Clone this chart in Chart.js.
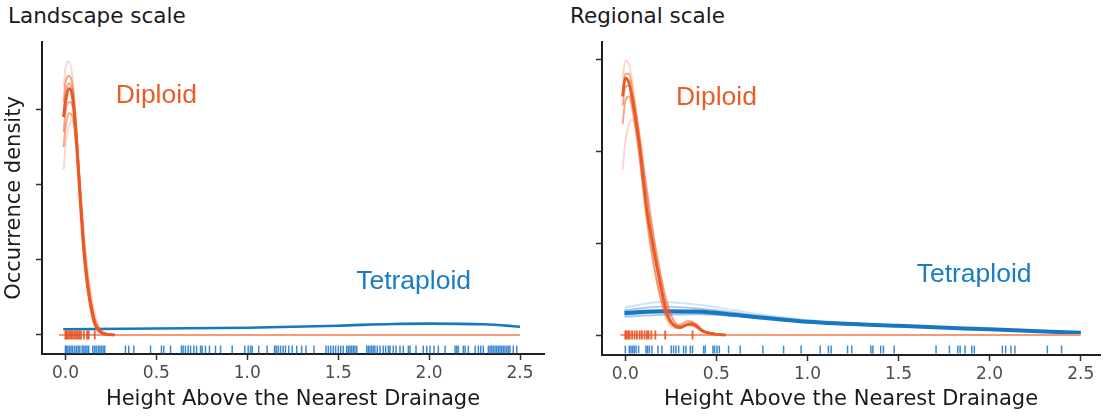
<!DOCTYPE html>
<html><head><meta charset="utf-8">
<script src="https://cdn.jsdelivr.net/npm/chart.js@4"></script>
<style>
body{margin:0;background:#fff;width:1109px;height:417px;overflow:hidden;position:relative}
canvas{position:absolute;top:0}
.ptitle{position:absolute;font-family:"DejaVu Sans";font-size:21.5px;line-height:1;color:#1a1a1a;white-space:nowrap}
</style></head><body>
<div class="ptitle" style="left:8px;top:5px">Landscape scale</div>
<div class="ptitle" style="left:570px;top:5px">Regional scale</div>
<canvas id="c1" width="560" height="417" style="left:0"></canvas>
<canvas id="c2" width="549" height="417" style="left:560px"></canvas>
<script>
// ---------- data ----------
const xTickValues = [0, 0.5, 1, 1.5, 2, 2.5];
const yTickValues = [0, 1, 2, 3];
const labelTexts = ['Diploid', 'Tetraploid'];
const labelX = [0.5, 1.915];
const landLabelY = [3.19, 0.707];
const regLabelY = [2.59, 0.66];

// Landscape scale: diploid density traces
const landDipX = [-0.01, 0, 0.02, 0.04, 0.06, 0.08, 0.1, 0.12, 0.14, 0.16, 0.18, 0.2, 0.23, 0.27];
const landDipMain = [2.9, 3.1, 3.28, 3.15, 2.6, 1.84, 1.15, 0.68, 0.38, 0.16, 0.07, 0.03, 0.008, 0];
const landDipV1 = [3.3, 3.55, 3.64, 3.4, 2.75, 1.9, 1.15, 0.62, 0.3, 0.12, 0.04, 0.01, 0, 0];
const landDipV2 = [3.1, 3.35, 3.45, 3.3, 2.75, 1.95, 1.22, 0.7, 0.36, 0.15, 0.06, 0.02, 0, 0];
const landDipV3 = [2.7, 2.95, 3.1, 3.05, 2.6, 1.95, 1.3, 0.8, 0.45, 0.22, 0.1, 0.04, 0.01, 0];
const landDipV4 = [2.2, 2.5, 2.8, 2.85, 2.55, 2.0, 1.4, 0.9, 0.55, 0.3, 0.14, 0.06, 0.015, 0];
const landDipV5 = [2.5, 2.75, 2.95, 2.9, 2.5, 1.85, 1.2, 0.72, 0.4, 0.2, 0.09, 0.04, 0.01, 0];
const landDipV6 = [2.95, 3.2, 3.35, 3.2, 2.7, 2.0, 1.3, 0.78, 0.44, 0.2, 0.08, 0.03, 0.005, 0];
// Landscape scale: tetraploid density
const landTetX = [-0.012, 0.5, 1.0, 1.5, 1.8, 2.0, 2.3, 2.45, 2.5];
const landTetMain = [0.076, 0.087, 0.097, 0.124, 0.147, 0.151, 0.142, 0.12, 0.11];
// Landscape rugs
const landTetRug = [0.0, 0.004, 0.013, 0.022, 0.031, 0.040, 0.051, 0.061, 0.070, 0.079, 0.092, 0.101, 0.110, 0.119, 0.128, 0.150, 0.160, 0.169, 0.180, 0.189, 0.198, 0.207, 0.216,
  0.330, 0.348, 0.376, 0.468, 0.528, 0.541, 0.578, 0.638, 0.647, 0.660, 0.675, 0.688, 0.706, 0.721, 0.743, 0.752, 0.770, 0.792, 0.825, 0.853, 0.917, 0.986, 1.005, 1.018, 1.027, 1.063, 1.109, 1.150, 1.159, 1.170, 1.183, 1.197, 1.210, 1.228, 1.247,
  1.272, 1.299, 1.323, 1.367, 1.433, 1.446, 1.459, 1.473, 1.486, 1.501, 1.514, 1.528, 1.547, 1.556, 1.565, 1.574, 1.583, 1.592, 1.602, 1.657, 1.666, 1.675, 1.684, 1.693, 1.702, 1.715, 1.730, 1.748, 1.761, 1.776, 1.785, 1.803, 1.818, 1.840, 1.858, 1.886, 1.895, 1.928, 1.968, 1.987, 2.005, 2.027, 2.051, 2.088, 2.143, 2.152, 2.161, 2.188, 2.198, 2.216, 2.253, 2.271, 2.284, 2.298, 2.326, 2.335, 2.344, 2.353, 2.363, 2.372, 2.381, 2.390, 2.399, 2.408, 2.417, 2.427, 2.436, 2.445, 2.463, 2.482];
const landDipRug = [0.0, 0.004, 0.013, 0.022, 0.031, 0.040, 0.050, 0.059, 0.068, 0.077, 0.086, 0.101, 0.119, 0.128, 0.161];

// Regional scale: diploid density traces
const regDipX = [-0.015, 0, 0.02, 0.04, 0.06, 0.08, 0.1, 0.12, 0.14, 0.16, 0.18, 0.2, 0.22, 0.24, 0.26, 0.28, 0.3, 0.32, 0.34, 0.36, 0.38, 0.4, 0.42, 0.45, 0.5, 0.55];
const regDipMain = [2.6, 2.8, 2.75, 2.55, 2.3, 2.02, 1.66, 1.33, 1.1, 0.88, 0.68, 0.48, 0.3, 0.18, 0.12, 0.09, 0.08, 0.095, 0.115, 0.12, 0.11, 0.08, 0.05, 0.025, 0.008, 0];
const regDipV1 = [2.8, 2.99, 2.95, 2.75, 2.45, 2.1, 1.7, 1.3, 1.0, 0.75, 0.52, 0.34, 0.2, 0.12, 0.08, 0.07, 0.08, 0.1, 0.12, 0.12, 0.1, 0.07, 0.04, 0.02, 0.005, 0];
const regDipV2 = [2.5, 2.7, 2.72, 2.6, 2.4, 2.15, 1.85, 1.55, 1.28, 1.02, 0.8, 0.6, 0.42, 0.28, 0.18, 0.12, 0.1, 0.1, 0.11, 0.11, 0.1, 0.08, 0.05, 0.03, 0.01, 0];
const regDipV3 = [1.8, 2.1, 2.3, 2.35, 2.25, 2.05, 1.8, 1.52, 1.25, 1.0, 0.78, 0.57, 0.38, 0.24, 0.15, 0.1, 0.08, 0.09, 0.1, 0.1, 0.09, 0.07, 0.04, 0.02, 0.005, 0];
const regDipV4 = [2.3, 2.55, 2.6, 2.45, 2.2, 1.9, 1.55, 1.22, 0.95, 0.72, 0.52, 0.36, 0.23, 0.15, 0.11, 0.1, 0.11, 0.13, 0.15, 0.15, 0.13, 0.1, 0.06, 0.03, 0.01, 0];
const regDipV5 = [2.65, 2.85, 2.85, 2.65, 2.38, 2.08, 1.75, 1.42, 1.15, 0.9, 0.66, 0.45, 0.28, 0.17, 0.11, 0.08, 0.08, 0.1, 0.12, 0.13, 0.12, 0.09, 0.055, 0.025, 0.008, 0];
// Regional scale: tetraploid density traces
const regTetX = [-0.005, 0.2, 0.4, 0.6, 0.8, 1.0, 1.5, 2.0, 2.5];
const regTetMain = [0.24, 0.26, 0.255, 0.22, 0.18, 0.145, 0.1, 0.062, 0.025];
const regTetV1 = [0.3, 0.36, 0.33, 0.27, 0.21, 0.165, 0.105, 0.065, 0.03];
const regTetV2 = [0.27, 0.31, 0.29, 0.245, 0.195, 0.155, 0.1, 0.062, 0.028];
const regTetV3 = [0.2, 0.22, 0.225, 0.205, 0.17, 0.14, 0.098, 0.06, 0.022];
const regTetV4 = [0.22, 0.245, 0.24, 0.21, 0.175, 0.14, 0.095, 0.058, 0.02];
// Regional rugs
const regTetRug = [0.0, 0.022, 0.031, 0.040, 0.049, 0.059, 0.073, 0.113, 0.122, 0.132, 0.146, 0.179, 0.201, 0.252, 0.265, 0.278, 0.293, 0.320, 0.333, 0.357, 0.369, 0.430, 0.439, 0.481, 0.490, 0.503, 0.516, 0.567, 0.631, 0.755, 0.869, 0.965, 1.070, 1.115, 1.130, 1.220, 1.243,
  1.348, 1.359, 1.402, 1.417, 1.476, 1.706, 1.779, 1.825, 1.838, 1.865, 1.902, 1.916, 2.070, 2.088, 2.117, 2.139, 2.317, 2.395];
const regDipRug = [0.0, 0.005, 0.015, 0.024, 0.037, 0.051, 0.064, 0.079, 0.091, 0.106, 0.119, 0.128, 0.143, 0.165, 0.219, 0.369];

// ---------- styling ----------
const ORANGE = '#ea5a24';
const ORANGE_FAINT = 'rgba(238,100,50,0.25)';
const ORANGE_MID = 'rgba(235,92,40,0.55)';
const ORANGE_ZERO = '#f29b78';
const BLUE = '#1677c2';
const BLUE_FAINT = 'rgba(30,120,200,0.2)';
const BLUE_MID = 'rgba(30,120,200,0.4)';
const BLUE_RUG = 'rgba(25,118,205,0.85)';
const ORANGE_RUG = 'rgba(228,80,30,0.9)';

function pts(xs, ys) { return xs.map((x, i) => ({x: x, y: ys[i]})); }
function rug(xs, y) { return xs.map(x => ({x: x, y: y})); }

function curve(data, color, width, order) {
  return {data, borderColor: color, borderWidth: width, pointRadius: 0, fill: false,
    cubicInterpolationMode: 'monotone', order, showLine: true};
}
function rugSet(data, color, r, w, order) {
  return {data, showLine: false, pointStyle: 'line', pointRotation: 90, pointRadius: r,
    pointBorderColor: color, pointBorderWidth: w, pointBackgroundColor: color, order};
}

const labelPlugin = {
  id: 'speciesLabels',
  afterDatasetsDraw(chart, args, opts) {
    const ctx = chart.ctx, xs = chart.scales.x, ys = chart.scales.y;
    ctx.save();
    ctx.font = '26.5px "Liberation Sans"';
    ctx.textAlign = 'center';
    ctx.textBaseline = 'middle';
    labelTexts.forEach((t, i) => {
      ctx.fillStyle = i === 0 ? '#e85d29' : '#1a7cc3';
      ctx.fillText(t, xs.getPixelForValue(labelX[i]), ys.getPixelForValue(opts.ys[i]));
    });
    ctx.restore();
  }
};

function makeChart(id, p) {
  return new Chart(document.getElementById(id), {
    type: 'line',
    data: {datasets: p.datasets},
    plugins: [labelPlugin],
    options: {
      responsive: false, animation: false, devicePixelRatio: 1,
      layout: {padding: {left: 0, top: 42, right: p.padRight, bottom: 0}},
      plugins: {legend: {display: false}, tooltip: {enabled: false}, speciesLabels: {ys: p.labelY}},
      scales: {
        x: {
          type: 'linear', min: p.xmin, max: p.xmax,
          afterBuildTicks: s => { s.ticks = xTickValues.map(v => ({value: v})); },
          afterFit: s => { s.height = p.xh; },
          ticks: {callback: v => Number(v).toFixed(1), color: '#4d4d4d', padding: 3,
            font: {family: 'DejaVu Sans', size: 17}, maxRotation: 0, autoSkip: false},
          grid: {display: true, drawOnChartArea: false, drawTicks: true, tickLength: 6, tickWidth: 1.5, tickColor: '#333', color: '#333'},
          border: {display: true, color: '#1f1f1f', width: 2},
          title: {display: true, text: 'Height Above the Nearest Drainage', color: '#1a1a1a',
            font: {family: 'DejaVu Sans', size: 21, lineHeight: 1.2}, padding: {top: 0, bottom: 5}}
        },
        y: {
          type: 'linear', min: p.ymin, max: p.ymax,
          afterBuildTicks: s => { s.ticks = yTickValues.map(v => ({value: v})); },
          afterFit: s => { s.width = 42; },
          ticks: {display: false},
          grid: {display: true, drawOnChartArea: false, drawTicks: true, tickLength: 6, tickWidth: 1.5, tickColor: '#333', color: '#333'},
          border: {display: true, color: '#1f1f1f', width: 2},
          title: {display: p.showYTitle, text: 'Occurrence density', color: '#1a1a1a',
            font: {family: 'DejaVu Sans', size: 21, lineHeight: 1.2}, padding: {top: 2, bottom: 0}}
        }
      }
    }
  });
}

// Landscape panel
makeChart('c1', {
  xmin: -0.129, xmax: 2.632, ymin: -0.253, ymax: 3.9, xh: 63, padRight: 16, showYTitle: true,
  labelY: landLabelY,
  datasets: [
    rugSet(rug(landDipRug, 0), ORANGE_RUG, 4.5, 1.8, 0),
    curve(pts(landDipX, landDipMain), ORANGE, 3, 1),
    curve(pts(landDipX, landDipV1), ORANGE_FAINT, 2, 2),
    curve(pts(landDipX, landDipV2), ORANGE_MID, 2, 2),
    curve(pts(landDipX, landDipV3), ORANGE_MID, 2, 2),
    curve(pts(landDipX, landDipV4), ORANGE_FAINT, 2, 2),
    curve(pts(landDipX, landDipV5), ORANGE_MID, 2, 2),
    curve(pts(landDipX, landDipV6), ORANGE_MID, 2, 2),
    curve(pts([-0.035, 2.5], [0, 0]), ORANGE_ZERO, 2.2, 3),
    curve(pts(landTetX, landTetMain), BLUE, 2.6, 4),
    rugSet(rug(landTetRug, -0.193), BLUE_RUG, 3.9, 1.5, 6)
  ]
});

// Regional panel
makeChart('c2', {
  xmin: -0.128, xmax: 2.606, ymin: -0.218, ymax: 3.195, xh: 62, padRight: 9, showYTitle: false,
  labelY: regLabelY,
  datasets: [
    rugSet(rug(regDipRug, 0), ORANGE_RUG, 4.5, 1.8, 0),
    curve(pts(regDipX, regDipMain), ORANGE, 2.8, 1),
    curve(pts(regDipX, regDipV1), ORANGE_FAINT, 2, 2),
    curve(pts(regDipX, regDipV2), ORANGE_MID, 2, 2),
    curve(pts(regDipX, regDipV3), ORANGE_FAINT, 2, 2),
    curve(pts(regDipX, regDipV4), ORANGE_MID, 2, 2),
    curve(pts(regDipX, regDipV5), ORANGE_MID, 2, 2),
    curve(pts([-0.027, 2.5], [0, 0]), ORANGE_ZERO, 2.2, 3),
    curve(pts(regTetX, regTetMain), BLUE, 4, 4),
    curve(pts(regTetX, regTetV1), BLUE_FAINT, 1.8, 5),
    curve(pts(regTetX, regTetV2), BLUE_MID, 1.8, 5),
    curve(pts(regTetX, regTetV3), BLUE_MID, 1.8, 5),
    curve(pts(regTetX, regTetV4), BLUE_MID, 1.8, 5),
    rugSet(rug(regTetRug, -0.158), BLUE_RUG, 3.9, 1.5, 6)
  ]
});
</script>
</body></html>
